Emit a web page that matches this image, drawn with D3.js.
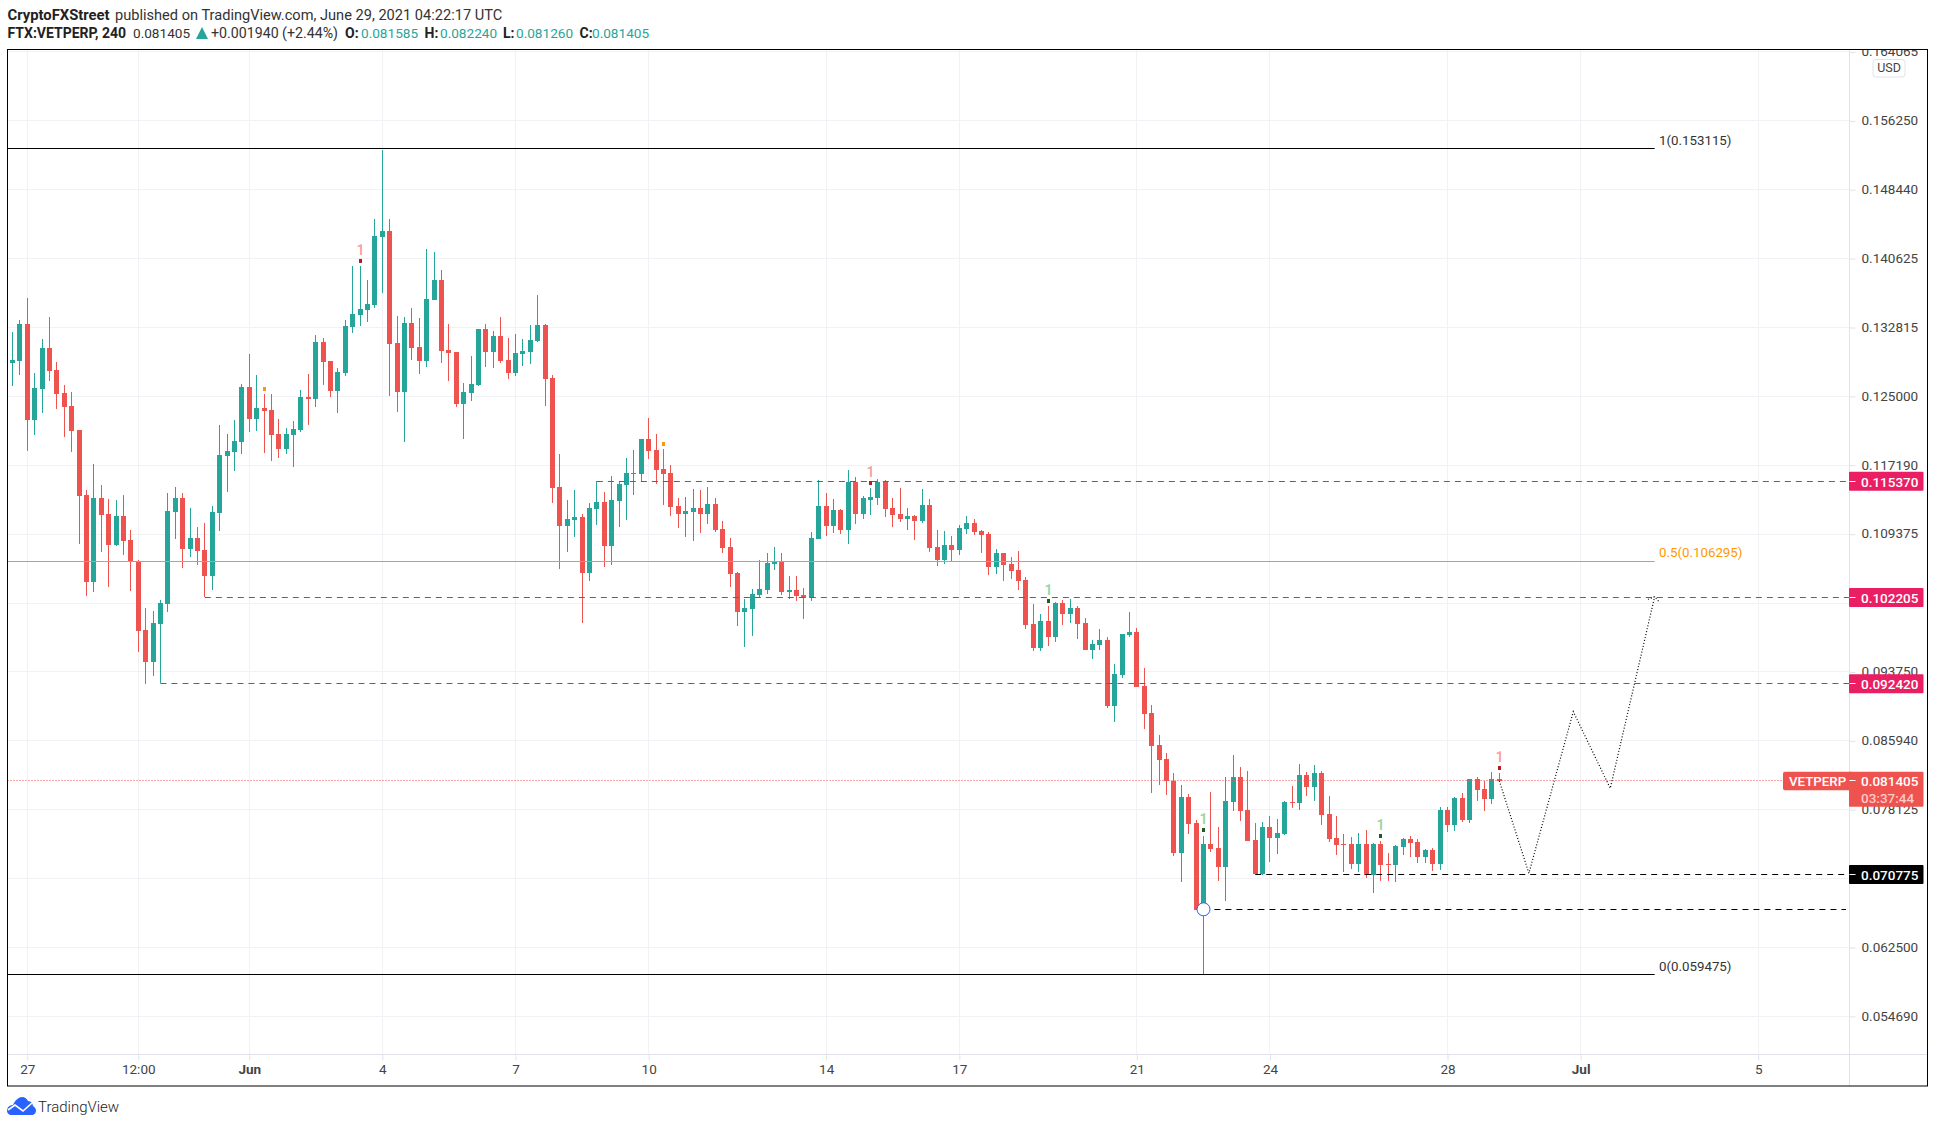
<!DOCTYPE html>
<html>
<head>
<meta charset="utf-8">
<title>VETPERP</title>
<script src="https://d3js.org/d3.v7.min.js"></script>
<style>
  body { margin: 0; background: #fff; }
  text { font-family: Roboto, sans-serif; }
</style>
</head>
<body>
<div id="chart"></div>
<script>
var Vet = Vet || {};

// 4h bars, first row is bar -2, bar 0 is May 27 00:00. [open, high, low, close]
Vet.bars = [
[.12879,.13234,.12618,.12913],[.12902,.13367,.12743,.13321],[.13321,.13616,.11881,.12233],[.12233,.12766,.12062,.12595],
[.12584,.13151,.12312,.13049],[.13049,.13401,.12675,.12788],[.12800,.12890,.12357,.12527],[.12539,.12629,.12040,.12380],
[.12391,.12550,.11870,.12108],[.12119,.12119,.10826,.11371],[.11382,.11439,.10237,.10395],[.10395,.11734,.10282,.11348],
[.11348,.11495,.10736,.11155],[.11167,.11337,.10339,.10815],[.10815,.11325,.10804,.11144],[.11144,.11382,.10702,.10860],
[.10872,.10985,.10293,.10622],[.10634,.10645,.09602,.09840],[.09851,.10101,.09239,.09488],[.09488,.10067,.09330,.09931],
[.09919,.10191,.09246,.10157],[.10146,.11405,.10055,.11201],[.11189,.11473,.10883,.11348],[.11348,.11405,.10554,.10770],
[.10770,.11235,.10679,.10894],[.10894,.11019,.10588,.10747],[.10758,.11065,.10222,.10464],[.10464,.11257,.10305,.11189],
[.11178,.12176,.10974,.11836],[.11824,.12074,.11416,.11881],[.11870,.12233,.11654,.11994],[.11983,.12641,.11847,.12607],
[.12607,.12981,.12096,.12244],[.12244,.12743,.12108,.12369],[.12369,.12527,.11858,.12335],[.12346,.12527,.11768,.12062],
[.12074,.12244,.11802,.11904],[.11904,.12142,.11847,.12074],[.12062,.12221,.11700,.12130],[.12119,.12573,.12096,.12493],
[.12493,.12754,.12176,.12471],[.12471,.13196,.12380,.13117],[.13117,.13162,.12629,.12890],[.12902,.12902,.12493,.12561],
[.12561,.12822,.12312,.12777],[.12766,.13367,.12732,.13299],[.13287,.13979,.13219,.13435],[.13423,.13979,.13299,.13491],
[.13480,.13820,.13344,.13548],[.13537,.14512,.13503,.14319],[.14308,.15294,.13673,.14376],[.14376,.14512,.12505,.13094],
[.13106,.13412,.12323,.12550],[.12550,.13401,.11983,.13333],[.13333,.13503,.12913,.13049],[.13060,.13389,.12754,.12902],
[.12902,.14172,.12834,.13605],[.13593,.14138,.13593,.13820],[.13820,.13934,.12879,.13015],[.13026,.13321,.12675,.12992],
[.13004,.13004,.12380,.12414],[.12414,.12652,.12017,.12550],[.12539,.12958,.12448,.12641],[.12629,.13264,.12618,.13264],
[.13264,.13321,.12834,.13004],[.13004,.13242,.12822,.13185],[.13185,.13401,.12879,.12902],[.12913,.13162,.12697,.12766],
[.12766,.13208,.12732,.12992],[.12981,.13151,.12845,.13015],[.13004,.13310,.12868,.13140],[.13128,.13650,.13117,.13310],
[.13310,.13321,.12391,.12697],[.12709,.12743,.11291,.11461],[.11473,.11847,.10543,.11031],[.11031,.11325,.10736,.11110],
[.11099,.11439,.10906,.11133],[.11133,.11167,.09931,.10498],[.10498,.11291,.10407,.11235],[.11223,.11541,.11042,.11303],
[.11303,.11416,.10566,.10804],[.10804,.11598,.10588,.11325],[.11314,.11541,.11019,.11507],[.11495,.11802,.11099,.11632],
[.11620,.11892,.11382,.11632],[.11620,.12017,.11533,.12017],[.12017,.12255,.11790,.11881],[.11892,.12074,.11507,.11666],
[.11677,.11904,.11269,.11620],[.11632,.11722,.11144,.11246],[.11257,.11348,.11008,.11167],[.11167,.11359,.10906,.11201],
[.11189,.11450,.10860,.11235],[.11235,.11439,.10951,.11167],[.11167,.11473,.11053,.11280],[.11280,.11348,.10962,.10985],
[.10996,.11087,.10724,.10781],[.10792,.10894,.10339,.10486],[.10498,.10509,.09897,.10055],[.10055,.10203,.09658,.10101],
[.10089,.10316,.09783,.10259],[.10248,.10645,.10214,.10316],[.10305,.10724,.10259,.10611],[.10600,.10792,.10532,.10622],
[.10622,.10724,.10248,.10282],[.10282,.10464,.10203,.10305],[.10305,.10464,.10180,.10237],[.10248,.10327,.09976,.10214],
[.10214,.10962,.10180,.10894],[.10883,.11552,.10883,.11257],[.11257,.11405,.10917,.11031],[.11031,.11337,.10951,.11212],
[.11212,.11223,.10940,.10985],[.10985,.11666,.10826,.11529],[.11529,.11586,.11053,.11167],[.11167,.11371,.11110,.11348],
[.11325,.11461,.11155,.11359],[.11348,.11564,.11269,.11529],[.11541,.11552,.11133,.11223],[.11235,.11348,.11019,.11155],
[.11167,.11461,.11076,.11110],[.11110,.11235,.10985,.11144],[.11144,.11155,.10872,.11087],[.11087,.11450,.11065,.11269],
[.11269,.11337,.10736,.10781],[.10792,.10985,.10577,.10645],[.10645,.10974,.10600,.10815],[.10815,.10917,.10622,.10758],
[.10758,.11042,.10702,.11008],[.10996,.11144,.10940,.11065],[.11065,.11110,.10928,.10962],[.10974,.10985,.10724,.10928],
[.10940,.10962,.10475,.10566],[.10566,.10770,.10486,.10724],[.10724,.10724,.10407,.10588],[.10600,.10679,.10429,.10520],
[.10532,.10747,.10305,.10407],[.10418,.10452,.09862,.09908],[.09919,.10146,.09613,.09647],[.09647,.10033,.09613,.09953],
[.09953,.10123,.09670,.09772],[.09772,.10169,.09715,.10157],[.10157,.10191,.09908,.10033],[.10033,.10203,.09931,.10101],
[.10101,.10123,.09749,.09919],[.09931,.09987,.09624,.09624],[.09624,.09738,.09522,.09692],[.09681,.09862,.09624,.09738],
[.09738,.09772,.08967,.08989],[.08989,.09466,.08808,.09352],[.09341,.09806,.09307,.09806],[.09794,.10055,.09772,.09828],
[.09828,.09874,.09205,.09205],[.09216,.09420,.08728,.08899],[.08910,.09001,.08003,.08536],[.08547,.08660,.08093,.08377],
[.08388,.08456,.07980,.08139],[.08139,.08230,.07288,.07322],[.07322,.08093,.06993,.07957],[.07957,.07991,.07538,.07651],
[.07663,.07697,.06676,.06676],[.06676,.07515,.05948,.07424],[.07424,.08014,.07334,.07368],[.07379,.07617,.07005,.07164],
[.07164,.08184,.06778,.07912],[.07901,.08434,.07799,.08184],[.08184,.08298,.07685,.07799],[.07810,.08252,.07458,.07458],
[.07470,.07663,.07084,.07084],[.07084,.07674,.07073,.07617],[.07617,.07742,.07220,.07492],[.07492,.07708,.07311,.07549],
[.07538,.07912,.07526,.07901],[.07901,.08082,.07833,.07889],[.07889,.08332,.07810,.08207],[.08207,.08241,.07969,.08071],
[.08071,.08320,.07912,.08230],[.08230,.08252,.07640,.07753],[.07765,.07969,.07447,.07481],[.07492,.07742,.07300,.07413],
[.07424,.07538,.07107,.07413],[.07424,.07504,.07141,.07198],[.07198,.07549,.07107,.07424],[.07424,.07583,.07039,.07073],
[.07073,.07436,.06869,.07424],[.07424,.07458,.07005,.07186],[.07198,.07322,.07005,.07186],[.07186,.07413,.06993,.07402],
[.07390,.07492,.07300,.07481],[.07481,.07515,.07277,.07436],[.07447,.07481,.07209,.07277],[.07277,.07368,.07209,.07356],
[.07356,.07379,.07118,.07198],[.07198,.07844,.07130,.07810],[.07810,.07844,.07560,.07640],[.07640,.07957,.07572,.07946],
[.07946,.08003,.07674,.07697],[.07697,.08161,.07663,.08161],[.08161,.08184,.07912,.08037],[.08048,.08139,.07799,.07935],
[.07935,.08241,.07878,.08161],[.081585,.08224,.08126,.081405]
];

Vet.priceTicks = [.164065,.15625,.14844,.140625,.132815,.125,.11719,.109375,.10156,.09375,.08594,.078125,.07031,.0625,.05469];

Vet.timeTicks = [
    {i: 0, label: '27'}, {i: 15, label: '12:00'}, {i: 30, label: 'Jun', bold: true}, {i: 48, label: '4'},
    {i: 66, label: '7'}, {i: 84, label: '10'}, {i: 108, label: '14'}, {i: 126, label: '17'},
    {i: 150, label: '21'}, {i: 168, label: '24'}, {i: 192, label: '28'}, {i: 210, label: 'Jul', bold: true},
    {i: 234, label: '5'}
];

// Fib levels run from the left edge to bar 220
Vet.fibs = [
    {price: .153115, color: '#000', label: '1(0.153115)', dy: -8},
    {price: .106295, color: '#ff9800', label: '0.5(0.106295)', dy: -8.5},
    {price: .059475, color: '#000', label: '0(0.059475)', dy: -8}
];

Vet.levels = [
    {price: .11537, from: 77, color: '#e91e63', tag: true},
    {price: .102205, from: 24, color: '#e91e63', tag: true},
    {price: .09242, from: 18, color: '#e91e63', tag: true},
    {price: .070775, from: 166, color: '#000', tag: true},
    {price: .066835, from: 159, color: '#000', tag: false}
];

Vet.signals = [
    {i: 45, price: .14036, color: '#b71c1c', one: '#ef5350'},
    {i: 32, price: .12584, color: '#ff9800'},
    {i: 86, price: .11960, color: '#ff9800'},
    {i: 114, price: .11518, color: '#b71c1c', one: '#ef5350'},
    {i: 138, price: .10180, color: '#1b5e20', one: '#4caf50'},
    {i: 159, price: .07583, color: '#1b5e20', one: '#4caf50'},
    {i: 183, price: .07515, color: '#1b5e20', one: '#4caf50'},
    {i: 199, price: .08286, color: '#b71c1c', one: '#ef5350'}
];

// The hand drawn projection after the last bar
Vet.projection = [[199, .08140], [203, .07092], [209, .08925], [214, .08056], [220, .10229]];
Vet.arrowHead = [[219.1, .10199], [220, .10229], [220.7, .10161]];

Vet.Chart = function() {
    'use strict';

    var frame = {left: 7.5, right: 1927.5, top: 49.5, bottom: 1086},
        plotRight = 1849.5,
        plotBottom = 1054.5,
        up = '#26a69a',
        down = '#ef5350',
        gridColor = '#f0f2f5',
        axisColor = '#e0e3eb';

    var x = d3.scaleLinear().domain([0, 234]).range([27.3, 1758.2]),
        y = d3.scaleLinear().domain([.125, .05469]).range([396.4, 1016.4]);

    function snap(v) {
        return Math.floor(v) + 0.5;
    }

    function chart(_selection) {
        _selection.each(function() {
            var svg = d3.select(this).append('svg')
                .attr('width', 1935)
                .attr('height', 1127)
                .style('display', 'block');

            svg.append('clipPath').attr('id', 'frame-clip').append('rect')
                .attr('x', frame.left).attr('y', frame.top)
                .attr('width', frame.right - frame.left).attr('height', frame.bottom - frame.top);
            svg.append('clipPath').attr('id', 'plot-clip').append('rect')
                .attr('x', frame.left).attr('y', frame.top)
                .attr('width', plotRight - frame.left).attr('height', plotBottom - frame.top);

            chart.grid(svg);
            chart.candles(svg);
            chart.drawings(svg);
            chart.axes(svg);
            chart.tags(svg);
            chart.header(svg);
            chart.logo(svg);

            svg.append('rect')
                .attr('x', frame.left).attr('y', frame.top)
                .attr('width', frame.right - frame.left).attr('height', frame.bottom - frame.top)
                .attr('fill', 'none').attr('stroke', '#000').attr('stroke-width', 1);
        });
    }

    chart.grid = function(svg) {
        var g = svg.append('g').attr('clip-path', 'url(#plot-clip)').attr('shape-rendering', 'crispEdges');

        g.selectAll('.hgrid').data(Vet.priceTicks).enter().append('line')
            .attr('class', 'hgrid')
            .attr('x1', frame.left).attr('x2', plotRight)
            .attr('y1', function(d) { return snap(y(d)); })
            .attr('y2', function(d) { return snap(y(d)); })
            .attr('stroke', gridColor);

        g.selectAll('.vgrid').data(Vet.timeTicks).enter().append('line')
            .attr('class', 'vgrid')
            .attr('y1', frame.top).attr('y2', plotBottom)
            .attr('x1', function(d) { return snap(x(d.i)); })
            .attr('x2', function(d) { return snap(x(d.i)); })
            .attr('stroke', gridColor);
    };

    chart.candles = function(svg) {
        var data = Vet.bars.map(function(r, k) {
            return {i: k - 2, open: r[0], high: r[1], low: r[2], close: r[3]};
        });

        var bar = svg.append('g')
            .attr('clip-path', 'url(#plot-clip)')
            .attr('shape-rendering', 'crispEdges')
            .selectAll('g').data(data).enter().append('g')
            .attr('fill', function(d) { return d.close >= d.open ? up : down; })
            .attr('stroke', function(d) { return d.close >= d.open ? up : down; });

        bar.append('line')
            .attr('x1', function(d) { return snap(x(d.i)); })
            .attr('x2', function(d) { return snap(x(d.i)); })
            .attr('y1', function(d) { return y(d.high); })
            .attr('y2', function(d) { return y(d.low); });

        bar.append('rect')
            .attr('stroke', 'none')
            .attr('x', function(d) { return snap(x(d.i)) - 2.5; })
            .attr('width', 5)
            .attr('y', function(d) { return y(Math.max(d.open, d.close)); })
            .attr('height', function(d) { return Math.max(1, Math.abs(y(d.open) - y(d.close))); });
    };

    chart.drawings = function(svg) {
        var g = svg.append('g').attr('clip-path', 'url(#frame-clip)');

        // Last price
        g.append('line')
            .attr('x1', frame.left).attr('x2', 1783)
            .attr('y1', snap(y(.081405))).attr('y2', snap(y(.081405)))
            .attr('stroke', down).attr('stroke-dasharray', '1 2');

        Vet.fibs.forEach(function(f) {
            g.append('line')
                .attr('x1', frame.left).attr('x2', x(220))
                .attr('y1', snap(y(f.price))).attr('y2', snap(y(f.price)))
                .attr('stroke', f.color);
            g.append('text')
                .attr('x', 1659).attr('y', y(f.price) + f.dy)
                .attr('dy', '0.35em')
                .attr('fill', f.color === '#000' ? '#333' : f.color)
                .attr('font-size', 13.3)
                .text(f.label);
        });

        Vet.levels.forEach(function(l) {
            g.append('line')
                .attr('x1', x(l.from)).attr('x2', l.tag ? plotRight : 1846)
                .attr('y1', snap(y(l.price))).attr('y2', snap(y(l.price)))
                .attr('stroke', l.color).attr('stroke-dasharray', '6 5');
        });

        // Signal marks with their number above
        Vet.signals.forEach(function(s) {
            g.append('rect')
                .attr('x', snap(x(s.i)) - 1.5).attr('y', y(s.price) - 2)
                .attr('width', 3).attr('height', 4)
                .attr('fill', s.color);
            if (s.one) {
                g.append('text')
                    .attr('x', snap(x(s.i))).attr('y', y(s.price) - 11)
                    .attr('dy', '0.35em').attr('text-anchor', 'middle')
                    .attr('fill', s.one).attr('fill-opacity', 0.55)
                    .attr('font-size', 14).attr('font-weight', 700)
                    .text('1');
            }
        });

        var line = d3.line()
            .x(function(d) { return x(d[0]); })
            .y(function(d) { return y(d[1]); });

        g.append('path').datum(Vet.projection)
            .attr('d', line).attr('fill', 'none')
            .attr('stroke', '#000').attr('stroke-width', 1.2).attr('stroke-dasharray', '1 2');
        g.append('path').datum(Vet.arrowHead)
            .attr('d', line).attr('fill', 'none')
            .attr('stroke', '#000').attr('stroke-width', 1.2).attr('stroke-dasharray', '1 2');

        // The low of the wick
        g.append('circle')
            .attr('cx', snap(x(159))).attr('cy', y(.066835)).attr('r', 6.5)
            .attr('fill', '#fff').attr('stroke', '#2962ff').attr('stroke-width', 1);
    };

    chart.axes = function(svg) {
        var labels = {};
        Vet.timeTicks.forEach(function(t) { labels[t.i] = t; });

        // Base lines of both axes
        svg.append('line')
            .attr('x1', plotRight).attr('x2', plotRight)
            .attr('y1', frame.top).attr('y2', frame.bottom)
            .attr('stroke', axisColor);
        svg.append('line')
            .attr('x1', frame.left).attr('x2', frame.right)
            .attr('y1', plotBottom).attr('y2', plotBottom)
            .attr('stroke', axisColor);

        var yAxis = d3.axisRight(y)
            .tickValues(Vet.priceTicks)
            .tickSize(6).tickPadding(6)
            .tickFormat(d3.format('.6f'));

        var gy = svg.append('g')
            .attr('clip-path', 'url(#frame-clip)')
            .append('g')
            .attr('transform', 'translate(' + plotRight + ',0)')
            .call(yAxis);
        gy.select('.domain').remove();
        gy.selectAll('line').attr('stroke', axisColor);
        gy.selectAll('text')
            .attr('dy', '0.28em')
            .attr('font-size', 13.5).attr('font-family', 'Roboto, sans-serif').attr('fill', '#444');

        var xAxis = d3.axisBottom(x)
            .tickValues(Vet.timeTicks.map(function(t) { return t.i; }))
            .tickSize(6).tickPadding(4)
            .tickFormat(function(i) { return labels[i].label; });

        var gx = svg.append('g')
            .attr('transform', 'translate(0,' + plotBottom + ')')
            .call(xAxis);
        gx.select('.domain').remove();
        gx.selectAll('line').attr('stroke', axisColor);
        gx.selectAll('text')
            .attr('font-size', 13.5).attr('font-family', 'Roboto, sans-serif').attr('fill', '#444')
            .attr('font-weight', function(i) { return labels[i].bold ? 700 : 400; });

        // USD button
        svg.append('rect')
            .attr('x', 1873).attr('y', 59.5).attr('width', 32).attr('height', 17.5).attr('rx', 3)
            .attr('fill', '#fff').attr('stroke', axisColor);
        svg.append('text')
            .attr('x', 1889).attr('y', 68).attr('dy', '0.35em').attr('text-anchor', 'middle')
            .attr('font-size', 12.5).attr('fill', '#444').text('USD');
    };

    chart.tags = function(svg) {
        var tagW = 74.5, tagH = 19, tagX = plotRight - 0.5;

        function tick(py) {
            svg.append('line')
                .attr('x1', plotRight).attr('x2', plotRight + 6)
                .attr('y1', snap(py)).attr('y2', snap(py))
                .attr('stroke', '#fff');
        }

        function value(py, txt, fill) {
            svg.append('text')
                .attr('x', 1861).attr('y', py).attr('dy', '0.35em')
                .attr('font-size', 13.5).attr('font-weight', 500)
                .attr('fill', fill).text(txt);
        }

        Vet.levels.filter(function(l) { return l.tag; }).forEach(function(l) {
            var py = y(l.price);
            svg.append('rect')
                .attr('x', tagX).attr('y', py - tagH / 2)
                .attr('width', tagW).attr('height', tagH).attr('rx', 1)
                .attr('fill', l.color);
            tick(py);
            value(py + 0.5, d3.format('.6f')(l.price), '#fff');
        });

        // Last price tag with countdown and the symbol name
        var last = y(.081405);
        svg.append('rect')
            .attr('x', 1783).attr('y', last - 9).attr('width', 70).attr('height', 18.5).attr('rx', 2)
            .attr('fill', down);
        svg.append('rect')
            .attr('x', tagX).attr('y', last - 9).attr('width', tagW).attr('height', 35).attr('rx', 1)
            .attr('fill', down);
        tick(last);
        svg.append('text')
            .attr('x', 1789).attr('y', last + 0.5).attr('dy', '0.35em')
            .attr('font-size', 13.3).attr('font-weight', 500).attr('fill', '#fff').text('VETPERP');
        value(last + 0.5, '0.081405', '#fff');
        value(last + 17, '03:37:44', '#ffc9c7');
    };

    chart.header = function(svg) {
        var dark = '#222',
            first = 14.5,
            second = 33;

        var items = [
            {x: 7.5, y: first, size: 14.8, t: 'CryptoFXStreet', bold: true, fill: dark},
            {x: 115, y: first, size: 14.6, t: 'published on TradingView.com, June 29, 2021 04:22:17 UTC', fill: '#333'},
            {x: 7.5, y: second, size: 14, t: 'FTX:VETPERP, 240', bold: true, fill: dark},
            {x: 133, y: second, size: 13.6, t: '0.081405', fill: '#333'},
            {x: 211, y: second, size: 14.2, t: '+0.001940 (+2.44%)', fill: '#333'},
            {x: 345, y: second, size: 14, t: 'O:', bold: true, fill: dark},
            {x: 361, y: second, size: 13.6, t: '0.081585', fill: up},
            {x: 424.5, y: second, size: 14, t: 'H:', bold: true, fill: dark},
            {x: 440, y: second, size: 13.6, t: '0.082240', fill: up},
            {x: 503, y: second, size: 14, t: 'L:', bold: true, fill: dark},
            {x: 516, y: second, size: 13.6, t: '0.081260', fill: up},
            {x: 579.5, y: second, size: 14, t: 'C:', bold: true, fill: dark},
            {x: 592, y: second, size: 13.6, t: '0.081405', fill: up}
        ];

        svg.append('g').selectAll('text').data(items).enter().append('text')
            .attr('x', function(d) { return d.x; })
            .attr('y', function(d) { return d.y; })
            .attr('dy', '0.35em')
            .attr('font-size', function(d) { return d.size; })
            .attr('font-weight', function(d) { return d.bold ? 700 : 400; })
            .attr('fill', function(d) { return d.fill; })
            .text(function(d) { return d.t; });

        svg.append('path')
            .attr('d', 'M196,39L202,27L208,39Z')
            .attr('fill', up);
    };

    chart.logo = function(svg) {
        var g = svg.append('g').attr('transform', 'translate(7,1097)');
        g.append('path')
            .attr('d', 'M0,14C0,10 3,8 6,8C8,3 12,0 15,0C18,0 20,2 21,4C24,4 26,7 26,9C28,10 29,12 29,14C29,16 27,18 25,18L4,18C2,18 0,16 0,14Z')
            .attr('fill', '#2962ff');
        g.append('path')
            .attr('d', 'M1,13L8,8L16,14L25,6')
            .attr('fill', 'none').attr('stroke', '#fff').attr('stroke-width', 1.6);
        svg.append('text')
            .attr('x', 38).attr('y', 1106.5).attr('dy', '0.35em')
            .attr('font-size', 15).attr('font-weight', 300).attr('fill', '#222')
            .text('TradingView');
    };

    return chart;
};

d3.select('#chart').call(Vet.Chart());
</script>
</body>
</html>
